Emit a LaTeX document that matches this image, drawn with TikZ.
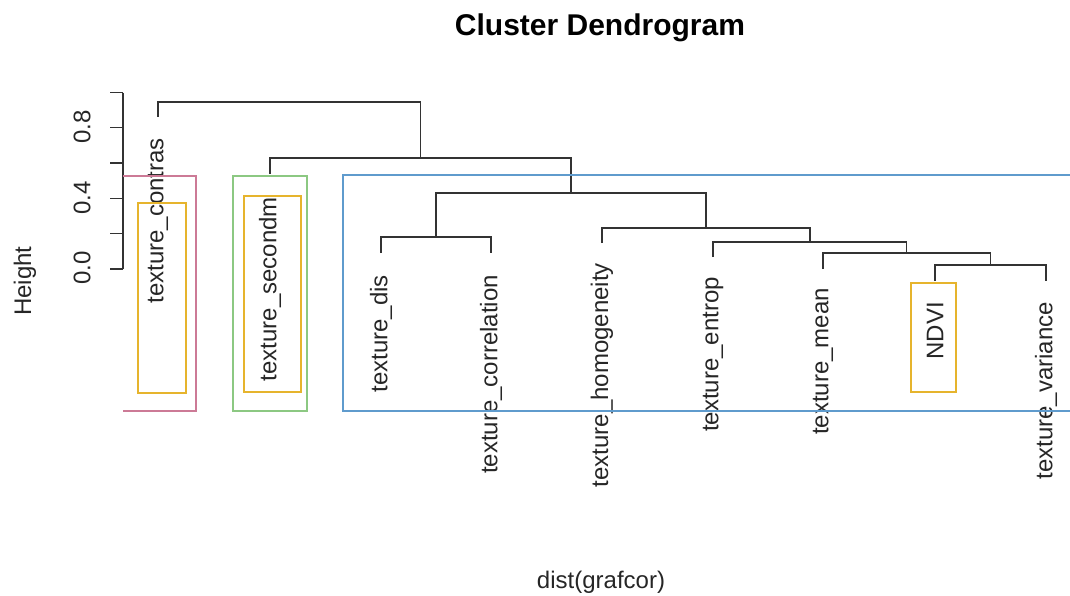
\documentclass[tikz,border=0pt]{standalone}
\usepackage{fontspec}
\setmainfont{Liberation Sans}
\definecolor{boxred}{RGB}{204,122,150}
\definecolor{boxgreen}{RGB}{140,200,130}
\definecolor{boxblue}{RGB}{95,155,205}
\definecolor{boxyellow}{RGB}{230,180,45}
\begin{document}
\begin{tikzpicture}[x=1pt,y=-1pt,font=\fontsize{24}{24}\selectfont,
  leaf/.style={rotate=90, anchor=east, inner sep=0pt, text=black!85},
  tree/.style={draw=black!80, line width=1.3pt},
  tick/.style={rotate=90, inner sep=0pt, text=black!85},
  frame/.style={line width=1.3pt}]
\useasboundingbox (0,0) rectangle (1070,596);
% title and axis labels
\node[font=\fontsize{30}{30}\selectfont\bfseries] (title) at (600,28) {Cluster Dendrogram};
\node[tick] (ylab) at (25,281) {Height};
\node[inner sep=0pt, text=black!85] (xlab) at (601,582) {dist(grafcor)};
% height axis
\draw[tree] (123,93) -- (123,269);
\foreach \h in {0,...,5} \draw[tree] (123,269-35.3*\h) -- (110,269-35.3*\h);
\node[tick] (t0) at (82,268) {0.0};
\node[tick] (t4) at (82,198) {0.4};
\node[tick] (t8) at (82,127) {0.8};
% leaf ends
\coordinate (contras) at (158,117);
\coordinate (secondm) at (270,174);
\coordinate (dis) at (381,253);
\coordinate (correl) at (491,253);
\coordinate (homog) at (602,243);
\coordinate (entrop) at (713,257);
\coordinate (mean) at (823,269);
\coordinate (ndvi) at (935,281);
\coordinate (variance) at (1046,281);
% merges
\coordinate (m8) at (990.5,265);
\coordinate (m7) at (906.5,253);
\coordinate (m6) at (810,242);
\coordinate (m5) at (706,228);
\coordinate (m4) at (436,237);
\coordinate (m3) at (571,193);
\coordinate (m2) at (420.5,158);
\coordinate (m1) at (289,102);
\draw[tree] (ndvi) |- (m8) -| (variance);
\draw[tree] (mean) |- (m7) -| (m8);
\draw[tree] (entrop) |- (m6) -| (m7);
\draw[tree] (homog) |- (m5) -| (m6);
\draw[tree] (dis) |- (m4) -| (correl);
\draw[tree] (m4) |- (m3) -| (m5);
\draw[tree] (secondm) |- (m2) -| (m3);
\draw[tree] (contras) |- (m1) -| (m2);
% leaf labels
\node[leaf] (lcontras) at (158,138) {texture\_contras};
\node[leaf] (lsecondm) at (270,197) {texture\_secondm};
\node[leaf] (ldis) at (381,275) {texture\_dis};
\node[leaf] (lcorrel) at (491,275) {texture\_correlation};
\node[leaf] (lhomog) at (602,263) {texture\_homogeneity};
\node[leaf] (lentrop) at (713,277) {texture\_entrop};
\node[leaf] (lmean) at (823,288) {texture\_mean};
\node[leaf] (lndvi) at (935,302) {NDVI};
\node[leaf] (lvariance) at (1046,302) {texture\_variance};
% cluster frames
\draw[frame, boxred] (123,176) -- (196,176) -- (196,411) -- (123,411);
\draw[frame, boxgreen] (233,176) rectangle (307,411);
\draw[frame, boxblue] (1070,175) -- (343,175) -- (343,411) -- (1070,411);
\draw[frame, boxyellow] (138,203) rectangle (186,393);
\draw[frame, boxyellow] (244,196) rectangle (301,392);
\draw[frame, boxyellow] (911,283) rectangle (956,392);
\end{tikzpicture}
\end{document}
